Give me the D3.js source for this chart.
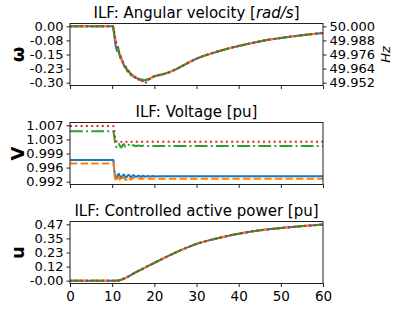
<!DOCTYPE html>
<html><head><meta charset="utf-8">
<script src="https://cdn.jsdelivr.net/npm/d3@7"></script>
<style>body{margin:0;background:#fff} text{font-family:"DejaVu Sans",sans-serif;fill:#000}</style>
</head><body><svg id="c" width="395" height="310"></svg>
<script>
// ---------- data ----------
const seriesNames = ["s1","s2","s3","s4"];
const xTicks = [0,10,20,30,40,50,60];

// angular velocity [rad/s]
const tW = [0,10.2,10.5,10.8,11.1,11.4,11.7,12.0,12.4,12.8,13.2,13.6,14.0,14.5,15.0,15.5,16.0,16.5,17.0,17.5,18.0,18.5,19.0,19.5,20,21,22,23,24,25,26,27,28,30,32,35,38,41,44,47,50,53,56,60];
const wBlue  = [0,0,-0.05,-0.10,-0.13,-0.11,-0.15,-0.17,-0.18,-0.21,-0.215,-0.235,-0.24,-0.26,-0.262,-0.275,-0.276,-0.285,-0.283,-0.288,-0.284,-0.285,-0.277,-0.273,-0.266,-0.26,-0.255,-0.249,-0.24,-0.23,-0.218,-0.206,-0.194,-0.172,-0.155,-0.134,-0.115,-0.099,-0.085,-0.072,-0.062,-0.053,-0.045,-0.035];
const wOrange= [0,0,-0.03,-0.07,-0.10,-0.125,-0.14,-0.165,-0.19,-0.2,-0.225,-0.23,-0.25,-0.255,-0.27,-0.27,-0.283,-0.28,-0.29,-0.285,-0.29,-0.28,-0.28,-0.27,-0.265,-0.262,-0.254,-0.249,-0.24,-0.23,-0.218,-0.206,-0.194,-0.172,-0.155,-0.134,-0.115,-0.099,-0.085,-0.072,-0.062,-0.053,-0.045,-0.035];
const wGreen = [0,0,-0.04,-0.08,-0.095,-0.12,-0.15,-0.155,-0.185,-0.205,-0.215,-0.24,-0.24,-0.26,-0.26,-0.275,-0.278,-0.28,-0.29,-0.286,-0.288,-0.28,-0.28,-0.27,-0.268,-0.258,-0.256,-0.248,-0.24,-0.23,-0.218,-0.206,-0.194,-0.172,-0.155,-0.134,-0.115,-0.099,-0.085,-0.072,-0.062,-0.053,-0.045,-0.035];
const wRed   = [0,0,-0.03,-0.075,-0.11,-0.12,-0.145,-0.17,-0.18,-0.21,-0.22,-0.228,-0.25,-0.252,-0.27,-0.268,-0.285,-0.282,-0.295,-0.285,-0.3,-0.282,-0.28,-0.268,-0.266,-0.26,-0.255,-0.25,-0.24,-0.23,-0.218,-0.206,-0.194,-0.172,-0.155,-0.134,-0.115,-0.099,-0.085,-0.072,-0.062,-0.053,-0.045,-0.035];
const wTicks = [0,-0.075,-0.15,-0.225,-0.30];
const wTickLabels = ["0.00","-0.08","-0.15","-0.23","-0.30"];
const fTickLabels = ["50.000","49.988","49.976","49.964","49.952"];

// voltage [pu]
const tV = [0,10.3,10.5,10.7,11.0,11.3,11.6,11.9,12.2,12.5,12.8,13.1,13.4,13.7,14.0,14.3,14.6,14.9,15.2,15.5,15.8,16.1,16.4,16.7,17.0,17.3,17.6,17.9,18.5,19.1,19.7,20.3,21,22,24,27,30,40,50,60];
const vBlue  = [0.99775,0.99775,0.9950,0.9935,0.9929,0.9938,0.9941,0.9932,0.9930,0.9937,0.9939,0.9932,0.9931,0.9937,0.9938,0.9933,0.9932,0.9937,0.9937,0.9933,0.9933,0.9936,0.9936,0.9933,0.9934,0.9936,0.9935,0.9933,0.9935,0.9934,0.9935,0.9934,0.99345,0.99343,0.99343,0.99343,0.99343,0.99343,0.99343,0.99343];
const vOrange= [0.99687,0.99687,0.9945,0.9928,0.9921,0.9930,0.9933,0.9924,0.9923,0.9931,0.9932,0.9925,0.9925,0.9931,0.9931,0.9926,0.9926,0.9930,0.9930,0.9927,0.9927,0.9929,0.9929,0.9927,0.9928,0.9929,0.9928,0.9927,0.9928,0.99285,0.9928,0.99282,0.9928,0.9928,0.9928,0.9928,0.9928,0.9928,0.9928,0.9928];
const vGreen = [1.00541,1.00541,1.0040,1.0020,1.0012,1.0019,1.0021,1.0013,1.0011,1.0018,1.0020,1.0013,1.0013,1.0018,1.0018,1.0014,1.0014,1.0017,1.0017,1.0014,1.0015,1.0016,1.0016,1.0015,1.0015,1.0016,1.0015,1.0015,1.0015,1.0015,1.0015,1.0015,1.0015,1.0015,1.0015,1.0015,1.0015,1.0015,1.0015,1.0015];
const vRed   = [1.00680,1.00680,1.0060,1.0035,1.0027,1.0028,1.0027,1.0025,1.0026,1.0027,1.0026,1.0025,1.0026,1.0027,1.0026,1.0025,1.0026,1.0026,1.0026,1.0026,1.0026,1.0026,1.0026,1.0026,1.0026,1.0026,1.0026,1.0026,1.0026,1.0026,1.0026,1.0026,1.0026,1.0026,1.0026,1.0026,1.0026,1.0026,1.0026,1.0026];
const vTicks = [0.992,0.99575,0.9995,1.00325,1.007];
const vTickLabels = ["0.992","0.996","0.999","1.003","1.007"];

// controlled active power [pu]
const tP = [0,11,11.5,12,13,14,15,16,17,18,19,20,22,24,26,28,30,32,34,36,38,40,43,46,50,54,57,60];
const pAll = [0,0,0.002,0.006,0.02,0.038,0.058,0.077,0.095,0.113,0.131,0.148,0.184,0.218,0.25,0.28,0.307,0.328,0.346,0.362,0.378,0.392,0.41,0.424,0.439,0.452,0.46,0.468];
const pTicks = [0,0.1175,0.235,0.3525,0.47];
const pTickLabels = ["-0.00","0.12","0.23","0.35","0.47"];

// ---------- drawing ----------
const colors = ["#1f77b4","#ff7f0e","#2ca02c","#d62728"];
const dashes = [null,"7.4,3.2","12.8,3.2,2,3.2","2,3.3"];
const svg = d3.select("#c");
const L = 70, R = 323, H = 62;
const tops = [23.5, 122.5, 221.5];
const TF = 13;
const x = d3.scaleLinear().domain([0,60]).range([L,R]);

const panels = [
  {t:tW, ys:[wBlue,wOrange,wGreen,wRed], ticks:wTicks, labels:wTickLabels, label:"ω",
   title:["ILF: Angular velocity [","rad/s","]"]},
  {t:tV, ys:[vBlue,vOrange,vGreen,vRed], ticks:vTicks, labels:vTickLabels, label:"V",
   title:["ILF: Voltage [pu]"]},
  {t:tP, ys:[pAll,pAll,pAll,pAll], ticks:pTicks, labels:pTickLabels, label:"u",
   title:["ILF: Controlled active power [pu]"]}
];

panels.forEach((p,i)=>{
  const top = tops[i];
  const lo = p.ticks[0], hi = p.ticks[p.ticks.length-1];
  const mn = Math.min(lo,hi), mx = Math.max(lo,hi), m = (mx-mn)*0.05;
  const y = d3.scaleLinear().domain([mn-m, mx+m]).range([top+H, top]);
  const g = svg.append("g");
  g.append("clipPath").attr("id","clip"+i).append("rect")
    .attr("x",L).attr("y",top).attr("width",R-L).attr("height",H);
  const lg = g.append("g").attr("clip-path",`url(#clip${i})`);
  p.ys.forEach((vals,k)=>{
    const line = d3.line().x((d,j)=>x(p.t[j])).y(d=>y(d));
    lg.append("path").datum(vals).attr("d",line)
      .attr("fill","none").attr("stroke",colors[k]).attr("stroke-width",2)
      .attr("stroke-dasharray",dashes[k]).attr("stroke-linejoin","round");
  });
  // frame
  g.append("rect").attr("x",L).attr("y",top).attr("width",R-L).attr("height",H)
    .attr("fill","none").attr("stroke","#222").attr("stroke-width",1);
  // left axis
  const ya = g.append("g").attr("transform",`translate(${L},0)`)
    .call(d3.axisLeft(y).tickValues(p.ticks).tickFormat((d,j)=>p.labels[j]).tickSize(3.5).tickPadding(3));
  ya.select(".domain").remove();
  ya.selectAll("text").attr("font-size",TF).attr("font-family","DejaVu Sans").attr("fill","#000");
  ya.selectAll("line").attr("stroke","#222");
  // x axis
  const xa = g.append("g").attr("transform",`translate(0,${top+H})`)
    .call(d3.axisBottom(x).tickValues(xTicks).tickSize(3.5).tickPadding(4)
      .tickFormat(i===2 ? d3.format("d") : ()=>""));
  xa.select(".domain").remove();
  xa.selectAll("text").attr("font-size",13.5).attr("font-family","DejaVu Sans").attr("fill","#000");
  xa.selectAll("line").attr("stroke","#222");
  // title
  const tt = g.append("text").attr("x",(L+R)/2).attr("y",top-5.5)
    .attr("text-anchor","middle").attr("font-size",15);
  p.title.forEach((s,j)=>{
    tt.append("tspan").text(s).attr("font-style", j===1 ? "italic" : "normal");
  });
  // y label
  g.append("text").attr("transform",`translate(24,${top+H/2}) rotate(-90)`)
    .attr("text-anchor","middle").attr("font-size",18).attr("font-weight","bold").text(p.label);
  // right axis for omega
  if(i===0){
    const ra = g.append("g").attr("transform",`translate(${R},0)`)
      .call(d3.axisRight(y).tickValues(p.ticks).tickFormat((d,j)=>fTickLabels[j]).tickSize(3.5).tickPadding(3));
    ra.select(".domain").remove();
    ra.selectAll("text").attr("font-size",TF).attr("font-family","DejaVu Sans").attr("fill","#000");
    ra.selectAll("line").attr("stroke","#222");
    g.append("text").attr("transform",`translate(390,${top+H/2}) rotate(-90)`)
      .attr("text-anchor","middle").attr("font-size",13).attr("font-style","italic").text("Hz");
  }
});
</script></body></html>
